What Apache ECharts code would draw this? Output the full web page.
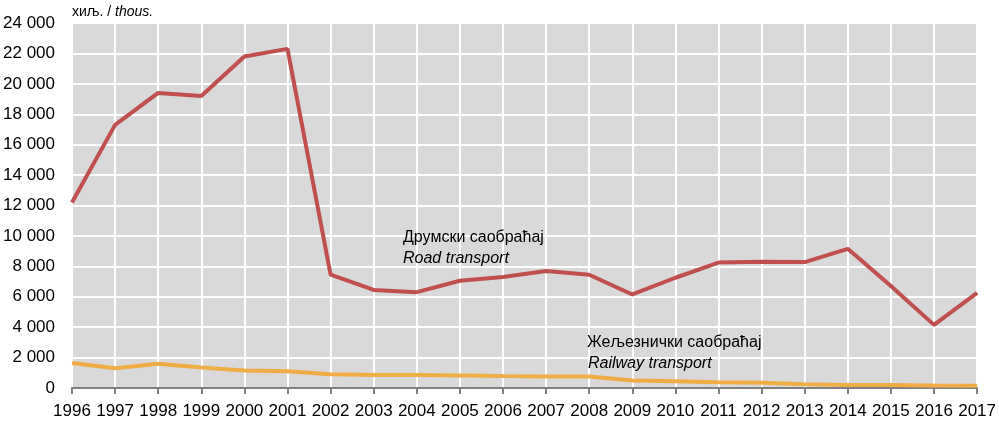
<!DOCTYPE html>
<html><head><meta charset="utf-8">
<script src="https://cdn.jsdelivr.net/npm/echarts@6/dist/echarts.min.js"></script>
<style>html,body{margin:0;padding:0;background:#fff}#c{width:999px;height:422px}</style>
</head><body><div id="c"></div>
<script>
const years = ['1996','1997','1998','1999','2000','2001','2002','2003','2004','2005','2006','2007','2008','2009','2010','2011','2012','2013','2014','2015','2016','2017'];
const road = [12200,17300,19400,19200,21800,22300,7450,6450,6300,7050,7300,7700,7450,6150,7250,8250,8300,8280,9150,6700,4150,6250];
const rail = [1650,1300,1600,1350,1150,1100,900,850,850,830,790,760,760,500,450,370,350,250,200,200,170,150];
const FONT = "'Liberation Sans',Arial,sans-serif";
const chart = echarts.init(document.getElementById('c'));
chart.setOption({
  animation:false,
  grid:{left:71,right:21,top:23,bottom:34,show:true,backgroundColor:'#d9d9d9',borderWidth:0},
  xAxis:{type:'category',data:years,boundaryGap:false,
    axisLine:{lineStyle:{color:'#808080',width:2}},
    axisTick:{length:6,lineStyle:{color:'#808080',width:2}},
    axisLabel:{color:'#000',fontFamily:FONT,fontSize:17,margin:15,interval:0},
    splitLine:{show:true,lineStyle:{color:'#fff',width:2}}},
  yAxis:{type:'value',min:0,max:24000,interval:2000,
    axisLine:{show:false},axisTick:{show:false},
    axisLabel:{color:'#000',fontFamily:FONT,fontSize:17,margin:17,
      formatter:v=>v>=1000?Math.floor(v/1000)+' '+String(v%1000).padStart(3,'0'):String(v)},
    splitLine:{lineStyle:{color:'#fff',width:2}}},
  graphic:[
    {type:'text',left:72,top:5,z:100,style:{text:'{a|хиљ. / }{b|thous.}',rich:{a:{fontFamily:FONT,fontSize:14,fill:'#000'},b:{fontFamily:FONT,fontSize:14,fontStyle:'italic',fill:'#000'}}}},
    {type:'text',left:403,top:230,z:100,style:{text:'Друмски саобраћај',fontFamily:FONT,fontSize:16,fill:'#000'}},
    {type:'text',left:403,top:251,z:100,style:{text:'Road transport',fontFamily:FONT,fontSize:16,fontStyle:'italic',fill:'#000'}},
    {type:'text',left:587,top:335,z:100,style:{text:'Жељезнички саобраћај',fontFamily:FONT,fontSize:16,fill:'#000'}},
    {type:'text',left:588,top:356,z:100,style:{text:'Railway transport',fontFamily:FONT,fontSize:16,fontStyle:'italic',fill:'#000'}}
  ],
  series:[
    {type:'line',data:road,symbol:'none',lineStyle:{color:'#c0504d',width:4},z:3},
    {type:'line',data:rail,symbol:'none',lineStyle:{color:'#f0ad46',width:4},z:3}
  ]
});
</script></body></html>
